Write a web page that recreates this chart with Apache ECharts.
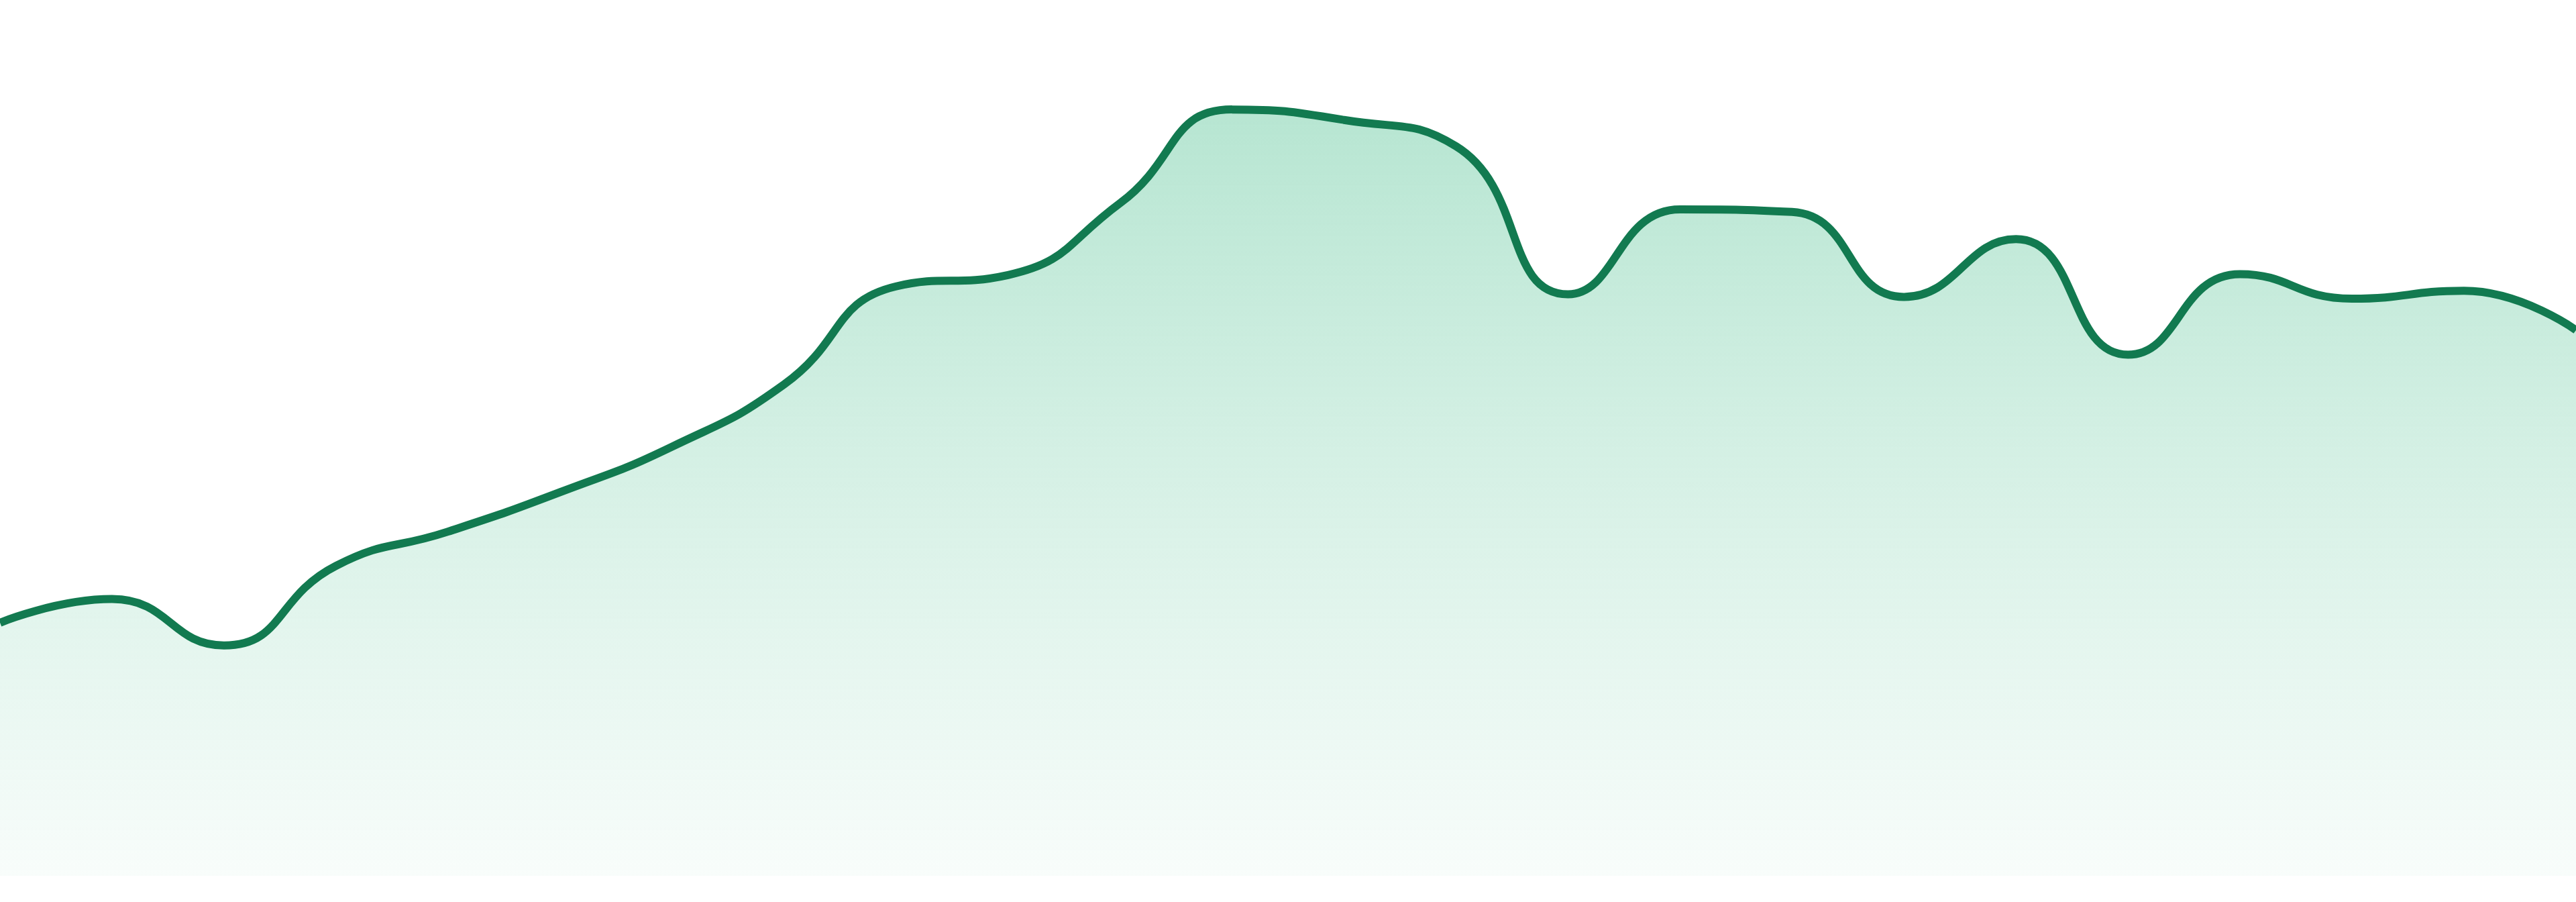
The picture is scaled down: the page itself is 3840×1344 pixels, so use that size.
<!DOCTYPE html>
<html>
<head>
<meta charset="utf-8">
<title>Area trend</title>
<script src="https://cdn.jsdelivr.net/npm/echarts@6/dist/echarts.min.js"></script>
<style>
  html, body { margin: 0; padding: 0; background: #ffffff; }
  #chart { width: 3840px; height: 1344px; }
</style>
</head>
<body>
<div id="chart"></div>
<script>
// 24 evenly spaced samples
var categories = ['1', '2', '3', '4', '5', '6', '7', '8', '9', '10', '11', '12',
                  '13', '14', '15', '16', '17', '18', '19', '20', '21', '22', '23', '24'];
var values = [28.9, 31.6, 26.3, 35.4, 39.3, 43.8, 49.0, 56.1, 67.3, 68.6, 76.8, 87.5,
              86.3, 83.3, 66.4, 76.1, 75.8, 66.1, 72.7, 59.5, 68.7, 65.9, 66.8, 62.3];

var chart = echarts.init(document.getElementById('chart'));

var option = {
    animation: false,
    grid: {
        left: 0,
        right: 0,
        top: 0,
        bottom: 39
    },
    xAxis: {
        type: 'category',
        boundaryGap: false,
        data: categories,
        show: false
    },
    yAxis: {
        type: 'value',
        min: 0,
        max: 100,
        show: false
    },
    series: [
        {
            type: 'line',
            data: values,
            smooth: true,
            symbol: 'none',
            lineStyle: {
                color: '#127a50',
                width: 12
            },
            areaStyle: {
                opacity: 1, // default is 0.7
                color: new echarts.graphic.LinearGradient(0, 0, 0, 1, [
                    { offset: 0, color: 'rgba(36, 178, 118, 0.33)' },
                    { offset: 1, color: 'rgba(36, 178, 118, 0.03)' }
                ])
            }
        }
    ]
};

chart.setOption(option);
</script>
</body>
</html>
